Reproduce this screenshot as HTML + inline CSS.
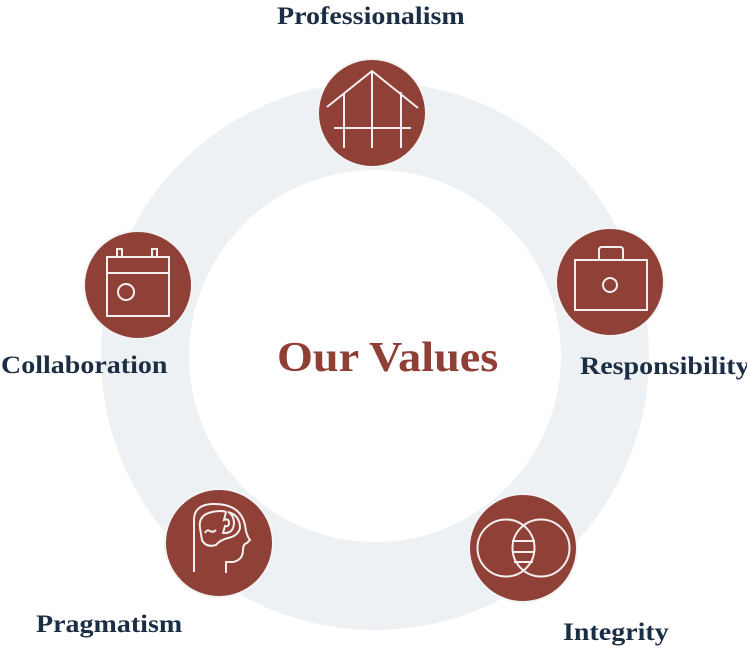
<!DOCTYPE html>
<html><head><style>
html,body{margin:0;padding:0;background:#fff;}
body{width:747px;height:651px;overflow:hidden;position:relative;}
.t{position:absolute;font-family:"Liberation Serif",serif;font-weight:bold;color:#1c2e44;font-size:25px;white-space:nowrap;transform:scaleX(1.12);transform-origin:0 0;}
</style></head><body>
<svg width="747" height="651" style="position:absolute;left:0;top:0">
<circle cx="375" cy="356" r="230" fill="none" stroke="#eef1f4" stroke-width="88"/>
<g fill="#8f4037" stroke="#f3f3f3" stroke-width="2">
<circle cx="372" cy="113" r="54"/>
<circle cx="610" cy="282" r="54"/>
<circle cx="523" cy="548" r="54"/>
<circle cx="219" cy="543" r="54"/>
<circle cx="138" cy="285" r="54"/>
</g>
<g fill="none" stroke="#f4eeee" stroke-width="2">
<polyline points="327,107 372,71 418,108"/>
<line x1="344" y1="93" x2="344" y2="148"/><line x1="372" y1="71" x2="372" y2="148"/><line x1="401" y1="92" x2="401" y2="148"/>
<line x1="334" y1="128" x2="411" y2="128"/>
<rect x="575" y="260" width="72" height="50"/>
<path d="M599,260 V250 Q599,247 602,247 H620 Q623,247 623,250 V260"/>
<circle cx="610" cy="285" r="7"/>
<rect x="107" y="257" width="62" height="59"/>
<line x1="107" y1="273" x2="169" y2="273"/>
<rect x="117" y="249" width="5" height="8"/><rect x="152" y="249" width="5" height="8"/>
<circle cx="126" cy="292" r="8"/>
<circle cx="506" cy="548" r="28.5"/><circle cx="541" cy="548" r="28.5"/>
<line x1="512" y1="541" x2="535" y2="541"/><line x1="512" y1="552" x2="535" y2="552"/><line x1="514" y1="562" x2="533" y2="562"/>
<path d="M194,572 V520 Q194,505 212,504 Q240,503 245,525 Q246,535 250,540 L247,543 Q243,544 243,550 Q243,560 233,562 H226 V573"/>
<path d="M200,528 Q198,515 212,512 Q222,510 226,512 L224,520 Q229,518 229,523 Q229,527 225,526 L223,533 Q234,534 234,522 Q233,514 228,512 Q240,515 240,528 Q238,536 228,538 Q220,540 216,545 Q206,548 202,540 Z"/>
<path d="M205,533 Q207,529 210,531 Q213,533 216,530"/>
</g>
</svg>
<div class="t" style="left:277px;top:3px;">Professionalism</div>
<div class="t" style="left:580px;top:353px;">Responsibility</div>
<div class="t" style="left:563px;top:619px;">Integrity</div>
<div class="t" style="left:36px;top:611px;">Pragmatism</div>
<div class="t" style="left:1px;top:352px;">Collaboration</div>
<div class="t" style="left:277px;top:334px;font-size:42px;color:#8f3f35;transform:scaleX(1.1);">Our Values</div>
</body></html>
